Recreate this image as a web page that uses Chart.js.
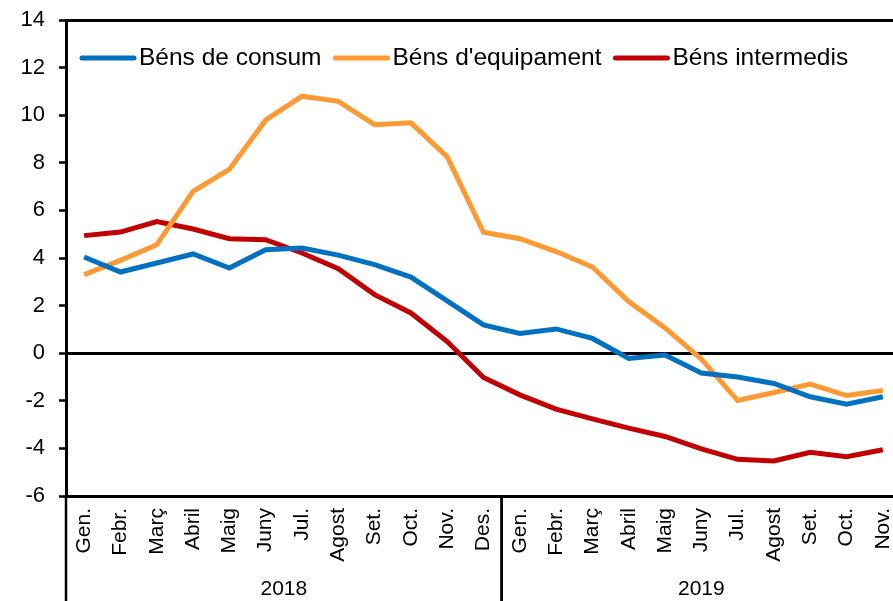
<!DOCTYPE html>
<html>
<head>
<meta charset="utf-8">
<script src="https://cdn.jsdelivr.net/npm/chart.js@4.4.1/dist/chart.umd.min.js"></script>
<style>
  html, body { margin: 0; padding: 0; background: #fff; overflow: hidden; }
  #wrap { width: 893px; height: 601px; overflow: hidden; }
  canvas { display: block; }
</style>
</head>
<body>
<div id="wrap"><canvas id="chart" width="901" height="601"></canvas></div>
<script>
// Month labels (Catalan), two years
const months = ['Gen.', 'Febr.', 'Març', 'Abril', 'Maig', 'Juny', 'Jul.', 'Agost', 'Set.', 'Oct.', 'Nov.', 'Des.',
                'Gen.', 'Febr.', 'Març', 'Abril', 'Maig', 'Juny', 'Jul.', 'Agost', 'Set.', 'Oct.', 'Nov.'];
const years = ['2018', '2019'];
const yearCounts = [12, 11];

// Series values
const consum = [4.04, 3.41, 3.79, 4.17, 3.58, 4.35, 4.42, 4.12, 3.72, 3.20, 2.20, 1.19,
                0.83, 1.02, 0.62, -0.22, -0.08, -0.83, -1.00, -1.27, -1.83, -2.14, -1.83];
const equipament = [3.30, 3.90, 4.56, 6.80, 7.72, 9.79, 10.80, 10.58, 9.60, 9.68, 8.25, 5.08,
                    4.81, 4.27, 3.62, 2.17, 1.06, -0.25, -1.99, -1.65, -1.30, -1.78, -1.57];
const intermedis = [4.94, 5.09, 5.53, 5.22, 4.81, 4.77, 4.21, 3.55, 2.46, 1.69, 0.49, -1.02,
                    -1.75, -2.35, -2.76, -3.15, -3.50, -4.02, -4.46, -4.53, -4.16, -4.35, -4.06];

const seriesNames = ['Béns de consum', "Béns d'equipament", 'Béns intermedis'];
const seriesColors = ['#0070C0', '#FF9933', '#C00000'];

const FONT = '"Liberation Sans", Arial, sans-serif';

// legend drawn inside the plot area, Excel style
const insideLegend = {
    id: 'insideLegend',
    afterDraw(chart) {
        const ctx = chart.ctx;
        let x = 80;
        const lineY = 58;
        ctx.save();
        ctx.font = '24.5px ' + FONT;
        ctx.textBaseline = 'alphabetic';
        ctx.textAlign = 'left';
        chart.data.datasets.forEach(ds => {
            ctx.strokeStyle = ds.borderColor;
            ctx.lineWidth = 5;
            ctx.lineCap = 'round';
            ctx.beginPath();
            ctx.moveTo(x + 2, lineY);
            ctx.lineTo(x + 54, lineY);
            ctx.stroke();
            ctx.fillStyle = '#000';
            ctx.fillText(ds.label, x + 59, 65);
            x += 59 + ctx.measureText(ds.label).width + 12;
        });
        ctx.restore();
    }
};

// second row of x labels: years, with separators
const yearGroups = {
    id: 'yearGroups',
    afterDraw(chart) {
        const ctx = chart.ctx;
        const xs = chart.scales.x;
        const area = chart.chartArea;
        const half = (xs.getPixelForValue(1) - xs.getPixelForValue(0)) / 2;
        ctx.save();
        ctx.strokeStyle = '#000';
        ctx.lineWidth = 2.5;
        ctx.fillStyle = '#000';
        ctx.font = '21px ' + FONT;
        ctx.textAlign = 'center';
        ctx.textBaseline = 'middle';
        let start = 0;
        years.forEach((yr, i) => {
            const end = start + yearCounts[i] - 1;
            const left = xs.getPixelForValue(start) - half;
            const right = xs.getPixelForValue(end) + half;
            ctx.beginPath();
            ctx.moveTo(left, area.bottom);
            ctx.lineTo(left, chart.height);
            ctx.moveTo(right, area.bottom);
            ctx.lineTo(right, chart.height);
            ctx.stroke();
            ctx.fillText(yr, (left + right) / 2, 589);
            start = end + 1;
        });
        ctx.restore();
    }
};

const ctx = document.getElementById('chart').getContext('2d');
const chart = new Chart(ctx, {
    type: 'line',
    data: {
        labels: months,
        datasets: [consum, equipament, intermedis].map((d, i) => ({
            label: seriesNames[i],
            data: d,
            borderColor: seriesColors[i],
            backgroundColor: seriesColors[i],
            borderWidth: 5,
            pointRadius: 0,
            tension: 0,
            fill: false
        }))
    },
    options: {
        responsive: false,
        animation: false,
        devicePixelRatio: 1,
        layout: { padding: { top: 20, right: 0, left: 0, bottom: 0 } },
        plugins: {
            legend: { display: false },
            tooltip: { enabled: false }
        },
        scales: {
            x: {
                offset: true,
                grid: { display: false, drawTicks: false },
                border: { display: true, color: '#000', width: 3 },
                ticks: {
                    color: '#000',
                    font: { family: FONT, size: 21 },
                    minRotation: 90,
                    maxRotation: 90,
                    autoSkip: false,
                    padding: 12
                },
                afterFit(scale) {
                    scale.height = 105;
                    scale.paddingLeft = 0;
                    scale.paddingRight = 0;
                }
            },
            y: {
                min: -6,
                max: 14,
                ticks: {
                    stepSize: 2,
                    color: '#000',
                    font: { family: FONT, size: 22 },
                    padding: 14
                },
                grid: {
                    color: c => (c.tick && (c.tick.value === 0 || c.tick.value === 14)) ? '#000' : 'rgba(0,0,0,0)',
                    lineWidth: 3,
                    tickColor: '#000',
                    tickWidth: 2.5,
                    tickLength: 7
                },
                border: { display: true, color: '#000', width: 3 },
                afterFit(scale) {
                    scale.width = 66;
                    scale.paddingTop = 0;
                    scale.paddingBottom = 0;
                }
            }
        }
    },
    plugins: [insideLegend, yearGroups]
});
</script>
</body>
</html>
